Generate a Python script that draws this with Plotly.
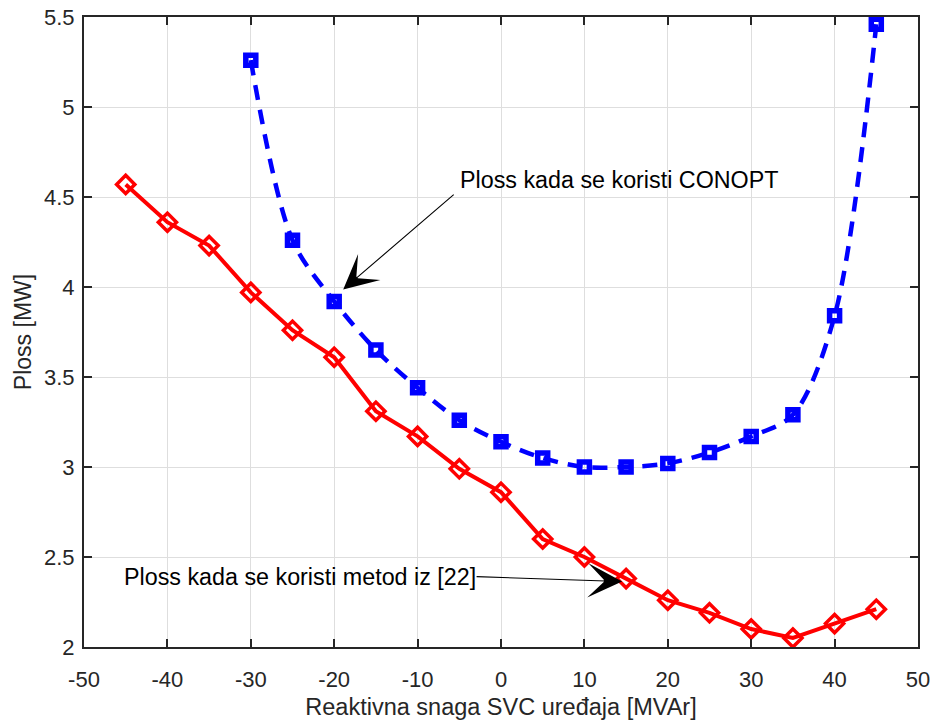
import plotly.graph_objects as go

# Reactive power of the SVC device [MVAr]
q_method = [-45, -40, -35, -30, -25, -20, -15, -10, -5, 0, 5, 10, 15, 20, 25, 30, 35, 40, 45]
loss_method = [4.57, 4.36, 4.23, 3.97, 3.76, 3.61, 3.31, 3.17, 2.99, 2.86, 2.60, 2.50, 2.38,
               2.26, 2.19, 2.10, 2.05, 2.13, 2.21]

q_conopt = [-30, -25, -20, -15, -10, -5, 0, 5, 10, 15, 20, 25, 30, 35, 40, 45]
loss_conopt = [5.26, 4.26, 3.92, 3.65, 3.44, 3.26, 3.14, 3.05, 3.00, 3.00, 3.02, 3.08, 3.17,
               3.29, 3.84, 5.46]

x_ticks = [-50, -40, -30, -20, -10, 0, 10, 20, 30, 40, 50]
x_tick_text = ["-50", "-40", "-30", "-20", "-10", "0", "10", "20", "30", "40", "50"]
y_ticks = [2, 2.5, 3, 3.5, 4, 4.5, 5, 5.5]
y_tick_text = ["2", "2.5", "3", "3.5", "4", "4.5", "5", "5.5"]

label_conopt = "Ploss kada se koristi CONOPT"
label_method = "Ploss kada se koristi metod iz [22]"

FONT = "Liberation Sans, Arial, Helvetica, sans-serif"
AXIS_COLOR = "#262626"

fig = go.Figure()

fig.add_trace(go.Scatter(
    x=q_conopt, y=loss_conopt, mode="lines+markers",
    line=dict(color="#0000ff", width=4.5, dash="15px,10px", shape="spline", smoothing=0.9),
    marker=dict(symbol="square-open", size=10, color="#0000ff", line=dict(width=5.5, color="#0000ff")),
    showlegend=False,
))

fig.add_trace(go.Scatter(
    x=q_method, y=loss_method, mode="lines+markers",
    line=dict(color="#ff0000", width=4),
    marker=dict(symbol="diamond-open", size=14, color="#ff0000", line=dict(width=3.5, color="#ff0000")),
    showlegend=False,
))

axis_common = dict(
    showline=True, linecolor=AXIS_COLOR, linewidth=2, mirror="ticks",
    ticks="inside", ticklen=8, tickwidth=1.5, tickcolor=AXIS_COLOR,
    showgrid=True, gridcolor="#dedede", gridwidth=1, zeroline=False,
    automargin=False,
    tickfont=dict(family=FONT, size=22, color=AXIS_COLOR),
)

fig.update_xaxes(
    range=[-50, 50], tickvals=x_ticks, ticktext=x_tick_text, ticklabelstandoff=12,
    title=dict(text="Reaktivna snaga SVC uređaja [MVAr]",
               font=dict(family=FONT, size=23.5, color=AXIS_COLOR), standoff=8),
    **axis_common,
)
fig.update_yaxes(
    range=[2, 5.5], tickvals=y_ticks, ticktext=y_tick_text, ticklabelstandoff=3,
    title=dict(text="Ploss [MW]", font=dict(family=FONT, size=23, color=AXIS_COLOR), standoff=6),
    **axis_common,
)

# Text labels for both curves
fig.add_annotation(x=-5.15, y=4.595, xref="x", yref="y", text=label_conopt, showarrow=False,
                   xanchor="left", yanchor="middle", font=dict(family=FONT, size=23.3, color="black"))
fig.add_annotation(x=-45.5, y=2.39, xref="x", yref="y", text=label_method, showarrow=False,
                   xanchor="left", yanchor="middle", font=dict(family=FONT, size=23.3, color="black"))

# Arrows from the labels to the curves
i_c = q_conopt.index(-20)
fig.add_annotation(x=q_conopt[i_c], y=loss_conopt[i_c], xref="x", yref="y", xshift=9, yshift=12,
                   text="", showarrow=True, arrowhead=3, arrowsize=5.2, arrowwidth=1.1,
                   arrowcolor="black", ax=112, ay=-96)
i_m = q_method.index(15)
fig.add_annotation(x=q_method[i_m], y=loss_method[i_m], xref="x", yref="y", xshift=-4, yshift=-3,
                   text="", showarrow=True, arrowhead=3, arrowsize=5.2, arrowwidth=1.1,
                   arrowcolor="black", ax=-147, ay=-5)

fig.update_layout(
    width=933, height=720,
    margin=dict(l=84, r=15, t=17, b=73),
    paper_bgcolor="white", plot_bgcolor="white",
    font=dict(family=FONT, color=AXIS_COLOR),
)

fig.write_html("out.html")
